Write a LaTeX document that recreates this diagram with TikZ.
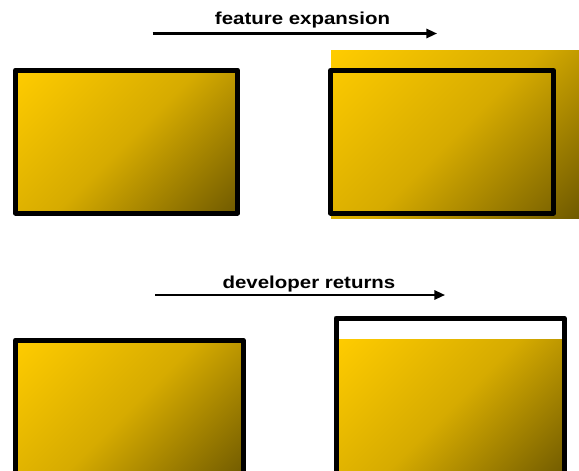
\documentclass[tikz,border=0pt]{standalone}
\usepackage{fontspec}
\setmainfont{Liberation Sans}
\usetikzlibrary{arrows.meta}
\definecolor{gold}{RGB}{255,204,0}
\definecolor{midgold}{RGB}{214,171,0}
\definecolor{olive}{RGB}{112,90,0}
% corner-to-corner gradient: the ramp spans the whole diagonal once rotated by 45 degrees
\pgfdeclareverticalshading{cornerramp}{100bp}{%
  color(0bp)=(olive); color(14.6bp)=(olive); color(50bp)=(midgold);
  color(85.4bp)=(gold); color(100bp)=(gold)}
\tikzset{
  goldfill/.style={draw=none, shading=cornerramp, shading angle=45},
  frame/.style={draw=black, line width=3.75pt, line join=round},
  flow/.style={draw=black, line width=1.6pt, -{Triangle[length=8pt,width=7pt]}},
  caption/.style={font=\bfseries\fontsize{13pt}{15pt}\selectfont, xscale=1.18, anchor=base, inner sep=0pt}
}
\begin{document}
\begin{tikzpicture}[x=0.75pt, y=-0.75pt]
  \useasboundingbox (0,0) rectangle (579,471);
  \clip (0,0) rectangle (579,471);

  % top row: before and after the feature expansion
  \shade[goldfill] (15.5,70) rectangle (237.5,213);
  \draw[frame] (15.5,70) rectangle (237.5,213);

  \shade[goldfill] (331,50) rectangle (579,218);
  \draw[frame] (330.5,70.5) rectangle (553.5,213);

  \coordinate (fa) at (152.5,33.5);
  \coordinate (fb) at (437,33.5);
  \draw[flow] (fa) -- (fb);
  \node[caption] (ftext) at (302.5,25) {feature expansion};

  % bottom row: before and after the developer returns
  \shade[goldfill] (15.5,340) rectangle (243,478);
  \draw[frame] (15.5,340) rectangle (243,478);

  \fill[white] (336,318) rectangle (564,339);
  \shade[goldfill] (336,339) rectangle (564,478);
  \draw[frame] (336,318) rectangle (564,478);

  \coordinate (da) at (155,295);
  \coordinate (db) at (445,295);
  \draw[flow] (da) -- (db);
  \node[caption] (dtext) at (309,288) {developer returns};
\end{tikzpicture}
\end{document}
